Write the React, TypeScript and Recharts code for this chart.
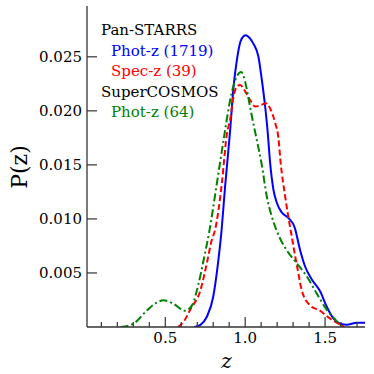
import { LineChart, Line, XAxis, YAxis } from 'recharts'

// Pan-STARRS photometric redshifts (1719)
const PS_PHOT_Z = [0.68, 0.72, 0.76, 0.8, 0.83, 0.85, 0.875, 0.906, 0.927, 0.948, 0.97, 0.99, 1.004, 1.03, 1.052, 1.083, 1.104, 1.125, 1.14, 1.156, 1.177, 1.198, 1.229, 1.27, 1.31, 1.344, 1.375, 1.417, 1.469, 1.51, 1.552, 1.594, 1.635, 1.7, 1.75]
const PS_PHOT_P = [0, 0.0002, 0.00095, 0.0028, 0.0059, 0.0086, 0.0131, 0.0182, 0.0222, 0.0247, 0.0264, 0.0269, 0.027, 0.0267, 0.0262, 0.025, 0.0229, 0.0204, 0.0182, 0.0152, 0.0127, 0.0115, 0.0106, 0.0101, 0.0092, 0.0071, 0.0056, 0.0044, 0.0033, 0.0019, 0.0008, 0.0003, 0.0002, 0.0004, 0.0004]

// Pan-STARRS spectroscopic redshifts (39)
const PS_SPEC_Z = [0.58, 0.62, 0.656, 0.72, 0.76, 0.79, 0.812, 0.854, 0.885, 0.906, 0.927, 0.948, 0.969, 1.0, 1.031, 1.0625, 1.094, 1.13, 1.16, 1.1875, 1.208, 1.222, 1.25, 1.27, 1.29, 1.31, 1.33, 1.354, 1.406, 1.469, 1.52, 1.573, 1.62]
const PS_SPEC_P = [0, 0.0006, 0.0016, 0.0034, 0.0059, 0.008, 0.009, 0.0133, 0.0178, 0.0192, 0.0213, 0.02225, 0.0224, 0.0218, 0.021, 0.0204, 0.0205, 0.0207, 0.0201, 0.0189, 0.0175, 0.0152, 0.0121, 0.0102, 0.0085, 0.0068, 0.0052, 0.0034, 0.002, 0.0015, 0.0009, 0.0004, 0]

// SuperCOSMOS photometric redshifts (64)
const SC_PHOT_Z = [0.22, 0.3, 0.386, 0.44, 0.49, 0.55, 0.625, 0.667, 0.708, 0.74, 0.775, 0.823, 0.87, 0.906, 0.948, 0.975, 1.0, 1.02, 1.042, 1.07, 1.104, 1.135, 1.167, 1.2, 1.26, 1.323, 1.385, 1.448, 1.51, 1.5625, 1.6]
const SC_PHOT_P = [0, 0.0003, 0.00155, 0.0022, 0.00247, 0.00216, 0.0015, 0.002, 0.004, 0.0062, 0.0088, 0.0133, 0.0178, 0.021, 0.0232, 0.0236, 0.0227, 0.0212, 0.0195, 0.0175, 0.015, 0.0121, 0.0102, 0.0088, 0.0071, 0.0059, 0.0047, 0.0031, 0.0016, 0.0007, 0.0001]

const X_TICKS = [0.1, 0.2, 0.3, 0.4, 0.5, 0.6, 0.7, 0.8, 0.9, 1.0, 1.1, 1.2, 1.3, 1.4, 1.5, 1.6, 1.7]
const X_MAJOR = [0.5, 1.0, 1.5]
const Y_TICKS = [0.005, 0.01, 0.015, 0.02, 0.025]

const AXIS = '#333'
const FONT = '"DejaVu Serif", serif'

const zip = (zs: number[], ps: number[]) => zs.map((z, i) => ({ z, p: ps[i] }))

const psPhot = zip(PS_PHOT_Z, PS_PHOT_P)
const psSpec = zip(PS_SPEC_Z, PS_SPEC_P)
const scPhot = zip(SC_PHOT_Z, SC_PHOT_P)

const isMajor = (v: number) => X_MAJOR.some((m) => Math.abs(m - v) < 1e-6)

function BottomTick(props: any) {
  const { x, y, payload } = props
  const major = isMajor(payload.value)
  return (
    <g>
      <line x1={x} x2={x} y1={y} y2={y - (major ? 10 : 5)} stroke={AXIS} strokeWidth={1.2} />
      {major && (
        <text x={x} y={y + 15.5} textAnchor="middle" fontSize={15} fontFamily={FONT} fill="#000">
          {payload.value.toFixed(1)}
        </text>
      )}
    </g>
  )
}

function TopTick(props: any) {
  const { x, y, payload } = props
  const major = isMajor(payload.value)
  return <line x1={x} x2={x} y1={y} y2={y + (major ? 10 : 5)} stroke={AXIS} strokeWidth={1.2} />
}

function LeftTick(props: any) {
  const { x, y, payload } = props
  return (
    <g>
      <line x1={x} x2={x + 10} y1={y} y2={y} stroke={AXIS} strokeWidth={1.2} />
      <text x={x - 5} y={y + 5.5} textAnchor="end" fontSize={15} fontFamily={FONT} fill="#000">
        {payload.value.toFixed(3)}
      </text>
    </g>
  )
}

function RightTick(props: any) {
  const { x, y } = props
  return <line x1={x} x2={x - 10} y1={y} y2={y} stroke={AXIS} strokeWidth={1.2} />
}

const legendRows = [
  { label: 'Pan-STARRS', color: '#000', left: 101, top: 23 },
  { label: 'Phot-z (1719)', color: '#0000ff', left: 111, top: 43.5 },
  { label: 'Spec-z (39)', color: '#ff0000', left: 111, top: 64 },
  { label: 'SuperCOSMOS', color: '#000', left: 101, top: 84.5 },
  { label: 'Phot-z (64)', color: '#008000', left: 111, top: 105 },
]

export default function App() {
  const xDomain = [0.01, 1.75]
  const yDomain = [0, 0.0297]
  return (
    <div style={{ position: 'absolute', left: 0, top: 0, width: 374, height: 374, background: '#fff' }}>
      <LineChart width={374} height={374} margin={{ top: 6, right: 9, bottom: 0, left: 0 }}>
        <XAxis
          xAxisId="bottom"
          dataKey="z"
          type="number"
          domain={xDomain}
          allowDataOverflow
          ticks={X_TICKS}
          interval={0}
          height={47}
          tickSize={0}
          tickMargin={0}
          tickLine={false}
          axisLine={{ stroke: AXIS, strokeWidth: 1.3 }}
          tick={<BottomTick />}
        />
        <XAxis
          xAxisId="top"
          orientation="top"
          dataKey="z"
          type="number"
          domain={xDomain}
          allowDataOverflow
          ticks={X_TICKS}
          interval={0}
          height={0}
          tickSize={0}
          tickMargin={0}
          tickLine={false}
          axisLine={{ stroke: AXIS, strokeWidth: 1.3 }}
          tick={<TopTick />}
        />
        <YAxis
          yAxisId="left"
          type="number"
          domain={yDomain}
          allowDataOverflow
          ticks={Y_TICKS}
          interval={0}
          width={87}
          tickSize={0}
          tickMargin={0}
          tickLine={false}
          axisLine={{ stroke: AXIS, strokeWidth: 1.3 }}
          tick={<LeftTick />}
        />
        <YAxis
          yAxisId="right"
          orientation="right"
          type="number"
          domain={yDomain}
          allowDataOverflow
          ticks={Y_TICKS}
          interval={0}
          width={0}
          tickSize={0}
          tickMargin={0}
          tickLine={false}
          axisLine={{ stroke: AXIS, strokeWidth: 1.3 }}
          tick={<RightTick />}
        />
        <Line
          xAxisId="bottom"
          yAxisId="left"
          data={psPhot}
          dataKey="p"
          type="monotone"
          stroke="#0000ff"
          strokeWidth={2}
          dot={false}
          isAnimationActive={false}
        />
        <Line
          xAxisId="bottom"
          yAxisId="left"
          data={psSpec}
          dataKey="p"
          type="monotone"
          stroke="#ff0000"
          strokeWidth={2}
          strokeDasharray="6 3"
          dot={false}
          isAnimationActive={false}
        />
        <Line
          xAxisId="bottom"
          yAxisId="left"
          data={scPhot}
          dataKey="p"
          type="monotone"
          stroke="#008000"
          strokeWidth={2}
          strokeDasharray="8 3 2 3"
          dot={false}
          isAnimationActive={false}
        />
      </LineChart>
      {legendRows.map((r) => (
        <div
          key={r.label}
          style={{
            position: 'absolute',
            left: r.left,
            top: r.top,
            color: r.color,
            fontFamily: FONT,
            fontSize: 15,
            lineHeight: '15px',
            whiteSpace: 'nowrap',
          }}
        >
          {r.label}
        </div>
      ))}
      <div
        style={{
          position: 'absolute',
          left: 19.5,
          top: 166.5,
          transform: 'translate(-50%, -50%) rotate(-90deg)',
          fontFamily: FONT,
          fontSize: 22,
          lineHeight: '22px',
          whiteSpace: 'nowrap',
        }}
      >
        P(z)
      </div>
      <div
        style={{
          position: 'absolute',
          left: 226.5,
          top: 361,
          transform: 'translate(-50%, -50%)',
          fontFamily: FONT,
          fontStyle: 'italic',
          fontSize: 20,
          lineHeight: '20px',
        }}
      >
        z
      </div>
    </div>
  )
}
